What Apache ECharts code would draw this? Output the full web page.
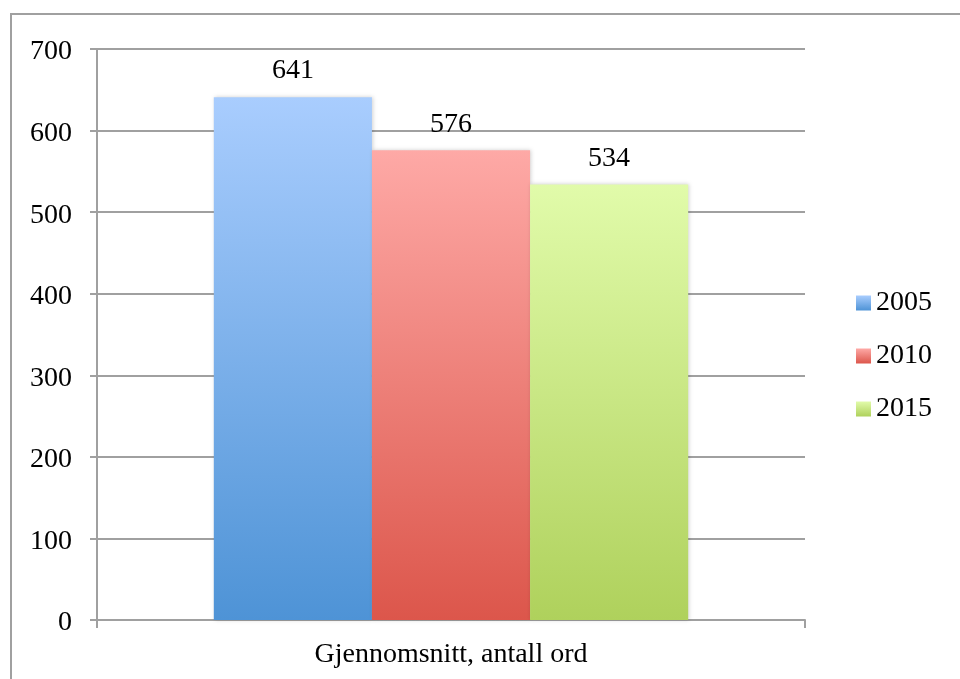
<!DOCTYPE html>
<html>
<head>
<meta charset="utf-8">
<script src="https://cdn.jsdelivr.net/npm/echarts@6/dist/echarts.min.js"></script>
<style>
  html, body { margin: 0; padding: 0; background: #fff; }
  #chart { width: 960px; height: 679px; }
</style>
</head>
<body>
<div id="chart"></div>
<script>
// Average word count per year
const categories = ['Gjennomsnitt, antall ord'];
const years = ['2005', '2010', '2015'];
const values2005 = [641];
const values2010 = [576];
const values2015 = [534];
const yTicks = [0, 100, 200, 300, 400, 500, 600, 700];

const FONT = 'Liberation Serif';
const FONT_SIZE = 28;
const AXIS_GRAY = '#a0a0a0';

function grad(top, bottom) {
  return new echarts.graphic.LinearGradient(0, 0, 0, 1, [
    { offset: 0, color: top },
    { offset: 1, color: bottom }
  ]);
}

const fills = [
  grad('#a9cdfe', '#4e93d6'),
  grad('#fea9a6', '#dc564b'),
  grad('#e1fbaa', '#afd15c')
];
const seriesValues = [values2005, values2010, values2015];

const chart = echarts.init(document.getElementById('chart'), null, { renderer: 'canvas' });

chart.setOption({
  animation: false,
  backgroundColor: '#fff',
  textStyle: { fontFamily: FONT, color: '#000' },
  graphic: [{
    type: 'rect',
    shape: { x: 11, y: 14, width: 1000, height: 800 },
    style: { fill: 'none', stroke: AXIS_GRAY, lineWidth: 2 },
    silent: true,
    z: -1
  }],
  grid: { left: 97, right: 155, top: 49, bottom: 59, containLabel: false },
  legend: {
    orient: 'vertical',
    left: 851,
    top: 284,
    itemWidth: 15,
    itemHeight: 15,
    itemGap: 25,
    icon: 'rect',
    textStyle: { fontFamily: FONT, fontSize: FONT_SIZE, color: '#000' },
    data: years
  },
  xAxis: {
    type: 'category',
    data: categories,
    axisLine: { lineStyle: { color: AXIS_GRAY, width: 2 } },
    axisTick: { show: true, length: 8, lineStyle: { color: AXIS_GRAY, width: 2 } },
    axisLabel: { fontFamily: FONT, fontSize: FONT_SIZE, color: '#000', margin: 21 }
  },
  yAxis: {
    type: 'value',
    min: yTicks[0],
    max: yTicks[yTicks.length - 1],
    interval: yTicks[1] - yTicks[0],
    axisLine: { show: true, lineStyle: { color: AXIS_GRAY, width: 2 } },
    axisTick: { show: true, length: 7, lineStyle: { color: AXIS_GRAY, width: 2 } },
    splitLine: { lineStyle: { color: AXIS_GRAY, width: 2 } },
    axisLabel: {
      margin: 25,
      formatter: '{v|{value}}',
      rich: {
        v: { fontFamily: FONT, fontSize: FONT_SIZE, color: '#000', padding: [6, 0, 0, 0] }
      }
    }
  },
  series: years.map((name, i) => ({
    name: name,
    type: 'bar',
    data: seriesValues[i],
    barGap: '0%',
    barCategoryGap: '33%',
    itemStyle: {
      color: fills[i],
      shadowColor: 'rgba(0,0,0,0.18)',
      shadowBlur: 4,
      shadowOffsetX: 1
    },
    label: {
      show: true,
      position: 'top',
      distance: 12,
      fontFamily: FONT,
      fontSize: FONT_SIZE,
      color: '#000'
    }
  }))
});
</script>
</body>
</html>
